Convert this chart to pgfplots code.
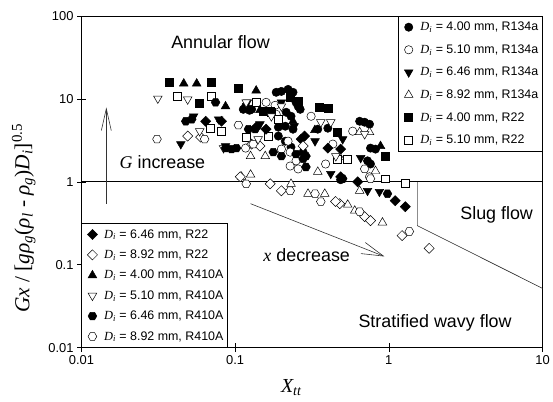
\documentclass[border=0pt]{standalone}
\usepackage{fontspec}
\setmainfont{Liberation Sans}
\newfontfamily\tnr{Liberation Serif}
\usepackage{pgfplots}
\pgfplotsset{compat=1.18}
\usetikzlibrary{arrows.meta}

% hexagon marks for the R410A series
\pgfdeclareplotmark{hexagon*}{%
  \pgfpathmoveto{\pgfpointpolar{0}{\pgfplotmarksize}}%
  \pgfpathlineto{\pgfpointpolar{60}{\pgfplotmarksize}}%
  \pgfpathlineto{\pgfpointpolar{120}{\pgfplotmarksize}}%
  \pgfpathlineto{\pgfpointpolar{180}{\pgfplotmarksize}}%
  \pgfpathlineto{\pgfpointpolar{240}{\pgfplotmarksize}}%
  \pgfpathlineto{\pgfpointpolar{300}{\pgfplotmarksize}}%
  \pgfpathclose\pgfusepathqfillstroke}

\newcommand{\Di}{{\tnr\itshape D}\textsubscript{\tnr\itshape i}}

\pgfplotsset{legend image code/.code={%
  \draw[#1] plot coordinates {(0.3cm,0cm)};
  \path (0cm,0cm) (0.6cm,0cm);}}

\tikzset{myleg/.style={draw=black, line width=0.5pt, fill=white,
    font=\fontsize{12.5}{14}\selectfont,
    inner xsep=2pt, inner ysep=4pt, column sep=1pt}}

\begin{document}
\begin{tikzpicture}
\begin{axis}[
    width=464pt, height=334pt, scale only axis,
    xmode=log, ymode=log,
    xmin=0.01, xmax=10, ymin=0.01, ymax=100,
    xtick={0.01,0.1,1,10}, xticklabels={0.01,0.1,1,10},
    ytick={0.01,0.1,1,10,100}, yticklabels={0.01,0.1,1,10,100},
    xtick pos=left, ytick pos=left,
    minor tick length=0pt,
    tick align=center, major tick length=9pt,
    tick style={black, line width=0.6pt},
    tick label style={font=\fontsize{13}{15}\selectfont},
    legend cell align=left,
    axis line style={black, line width=0.6pt},
    xlabel={\tnr\itshape X\textsubscript{tt}},
    xlabel style={font=\fontsize{20}{22}\selectfont, at={(ticklabel cs:0.455)}, anchor=north, yshift=-8pt},
    ylabel={\tnr\itshape Gx \upshape/ [\itshape gρ\textsubscript{g}\upshape(\itshape ρ\textsubscript{l} \upshape- \itshape ρ\textsubscript{g}\upshape)\itshape D\textsubscript{i}\upshape]\textsuperscript{0.5}},
    ylabel style={font=\fontsize{21.5}{23}\selectfont, at={(ticklabel cs:0.39)}, yshift=6pt},
    legend style={myleg, row sep=8.5pt, at={(1,1)}, anchor=north east},
  ]
  % flow regime boundaries
  \addplot[black, line width=0.7pt, forget plot] coordinates {(0.01,1) (10,1)};
  \addplot[black!45, line width=0.9pt, forget plot] coordinates {(1.53,1) (1.53,0.297)};
  \addplot[black!85, line width=0.6pt, forget plot] coordinates {(1.53,0.297) (10,0.052)};

  \addplot[only marks, line width=0.5pt, draw=black, mark=*, mark size=4.2pt, fill=black] coordinates {
    (0.117,8.13) (0.124,7.28) (0.113,7.48) (0.128,7.48) (0.185,12.0) (0.200,12.3)
    (0.221,13.0) (0.238,12.0) (0.215,6.89) (0.231,6.17) (0.257,8.13) (0.345,4.31)
    (0.401,4.43) (0.646,5.37) (0.696,5.23) (0.749,4.95) (0.760,2.55) (0.819,2.48)
    (0.727,1.79) (0.760,1.64) (0.191,3.56) (0.212,3.09) (0.231,2.62) (0.486,1.06)
    (0.212,4.68) (0.238,4.31) (0.191,4.56) (0.249,9.08) (0.265,7.48) (0.277,2.28)
  };
  \addlegendentry{\Di{} = 4.00 mm, R134a}
  \addplot[only marks, line width=0.5pt, draw=black, mark=*, mark size=4.2pt, fill=white] coordinates {
    (0.159,9.08) (0.182,8.36) (0.185,6.52) (0.312,6.17) (0.582,4.08) (0.221,3.09)
    (0.200,2.48) (0.228,2.28) (0.249,1.79) (0.257,1.43) (0.228,1.55) (0.388,1.64)
    (0.749,1.15) (0.117,2.55) (0.432,2.85)
  };
  \addlegendentry{\Di{} = 5.10 mm, R134a}
  \addplot[only marks, line width=0.5pt, draw=black, mark=triangle*, mark size=5pt, fill=black, mark options={rotate=180}] coordinates {
    (0.0443,2.85) (0.0537,6.17) (0.0780,5.68) (0.0866,2.70) (0.120,9.08) (0.145,4.95)
    (0.242,4.68) (0.331,3.09) (0.419,1.25) (0.656,1.94) (0.727,0.780) (0.869,0.759)
    (0.501,3.27) (0.200,9.08)
  };
  \addlegendentry{\Di{} = 6.46 mm, R134a}
  \addplot[only marks, line width=0.5pt, draw=black, mark=triangle*, mark size=5pt, fill=white] coordinates {
    (0.126,2.04) (0.157,2.04) (0.110,1.15) (0.126,1.22) (0.231,0.946) (0.298,0.718)
    (0.383,0.718) (0.540,0.530) (0.600,0.449) (0.909,0.323) (0.479,1.99) (0.646,3.97)
    (0.749,3.97) (0.819,1.35) (0.345,1.32) (0.646,0.780)
  };
  \addlegendentry{\Di{} = 8.92 mm, R134a}
  \addplot[only marks, line width=0.5pt, draw=black, mark=square*, mark size=4pt, fill=black] coordinates {
    (0.0371,15.7) (0.0703,15.7) (0.0588,8.83) (0.105,13.4) (0.152,7.08) (0.169,7.08)
    (0.228,10.4) (0.257,9.33) (0.355,7.91) (0.401,7.69) (0.465,3.97) (0.950,2.04)
    (0.172,6.9)
  };
  \addlegendentry{\Di{} = 4.00 mm, R22}
  \addplot[only marks, line width=0.5pt, draw=black, mark=square*, mark size=4pt, fill=white] coordinates {
    (0.0418,10.7) (0.0703,10.7) (0.0692,4.43) (0.0816,4.08) (0.137,9.08) (0.191,5.68)
    (0.118,3.46) (0.164,3.56) (0.465,1.89) (0.540,1.89) (0.950,1.09) (1.28,0.972)
  };
  \addlegendentry{\Di{} = 5.10 mm, R22}

  % annotations
  \node[font=\fontsize{18}{20}\selectfont] at (axis cs:0.0803,48.8) {Annular flow};
  \node[font=\fontsize{18}{20}\selectfont, anchor=west] at (axis cs:0.01683,1.74) {{\tnr\itshape G} increase};
  \node[font=\fontsize{18}{20}\selectfont, anchor=west] at (axis cs:0.145,0.130) {{\tnr\itshape x} decrease};
  \node[font=\fontsize{18}{20}\selectfont] at (axis cs:5.03,0.403) {Slug flow};
  \node[font=\fontsize{18}{20}\selectfont] at (axis cs:2.0,0.0199) {Stratified wavy flow};
  \draw[black!80, line width=0.6pt, -{Straight Barb[length=22pt,width=10pt]}]
    (axis cs:0.01451,0.545) -- (axis cs:0.01451,7.91);
  \draw[black!80, line width=0.6pt, -{Straight Barb[length=22pt,width=12pt]}]
    (axis cs:0.126,0.545) -- (axis cs:0.937,0.126);
\end{axis}

\begin{axis}[
    width=464pt, height=334pt, scale only axis,
    xmode=log, ymode=log,
    xmin=0.01, xmax=10, ymin=0.01, ymax=100,
    hide axis,
    legend cell align=left,
    legend style={myleg, row sep=6.3pt, at={(0,0)}, anchor=south west},
  ]
  \addplot[only marks, line width=0.5pt, draw=black, mark=square*, mark size=3.6pt, fill=black, mark options={rotate=45}] coordinates {
    (0.0643,5.37) (0.0816,5.37) (0.137,4.56) (0.159,4.31) (0.401,2.55) (0.486,2.48)
    (0.486,1.15) (0.627,1.00) (1.10,0.592) (1.28,0.502) (0.269,3.27) (0.283,3.56)
  };
  \addlegendentry{\Di{} = 6.46 mm, R22}
  \addplot[only marks, line width=0.5pt, draw=black, mark=square*, mark size=3.6pt, fill=white, mark options={rotate=45}] coordinates {
    (0.0491,3.56) (0.0596,3.46) (0.128,2.85) (0.145,2.70) (0.108,1.15) (0.169,0.946)
    (0.200,0.780) (0.277,2.70) (0.479,0.545) (0.696,0.381) (0.760,0.341) (1.22,0.225)
    (1.83,0.158) (0.45,0.58)
  };
  \addlegendentry{\Di{} = 8.92 mm, R22}
  \addplot[only marks, line width=0.5pt, draw=black, mark=triangle*, mark size=5pt, fill=black] coordinates {
    (0.0463,15.3) (0.0562,15.3) (0.0866,8.13) (0.137,12.6) (0.883,2.70) (0.145,7.3)
    (0.238,5.37) (0.33,4.2)
  };
  \addlegendentry{\Di{} = 4.00 mm, R410A}
  \addplot[only marks, line width=0.5pt, draw=black, mark=triangle*, mark size=5pt, fill=white, mark options={rotate=180}] coordinates {
    (0.0314,10.1) (0.0491,9.86) (0.0588,4.08) (0.118,9.08) (0.200,8.13) (0.172,6.17)
    (0.141,3.27) (0.361,5.23) (0.419,5.23) (0.452,2.04) (0.696,3.76) (0.084,2.55)
  };
  \addlegendentry{\Di{} = 5.10 mm, R410A}
  \addplot[only marks, line width=0.5pt, draw=black, mark=hexagon*, mark size=4.4pt, fill=black] coordinates {
    (0.0746,9.08) (0.0477,5.37) (0.0522,5.68) (0.0947,2.48) (0.102,2.55) (0.177,2.28)
    (0.200,2.04) (0.249,2.16) (0.277,1.89) (0.289,1.51) (0.501,1.09) (0.980,0.718)
    (0.122,4.31) (0.135,4.31) (0.0866,2.55) (0.289,2.04)
  };
  \addlegendentry{\Di{} = 6.46 mm, R410A}
  \addplot[only marks, line width=0.5pt, draw=black, mark=hexagon*, mark size=4.4pt, fill=white] coordinates {
    (0.0310,3.27) (0.0633,3.27) (0.105,4.82) (0.118,0.946) (0.228,0.780) (0.331,0.718)
    (0.361,0.577) (0.646,0.437) (1.36,0.252) (0.696,1.43) (0.131,2.85) (0.760,1.09)
  };
  \addlegendentry{\Di{} = 8.92 mm, R410A}
\end{axis}
\path ([shift={(-82pt,-54pt)}]current axis.south west) rectangle ([shift={(7pt,16pt)}]current axis.north east);
\end{tikzpicture}
\end{document}
